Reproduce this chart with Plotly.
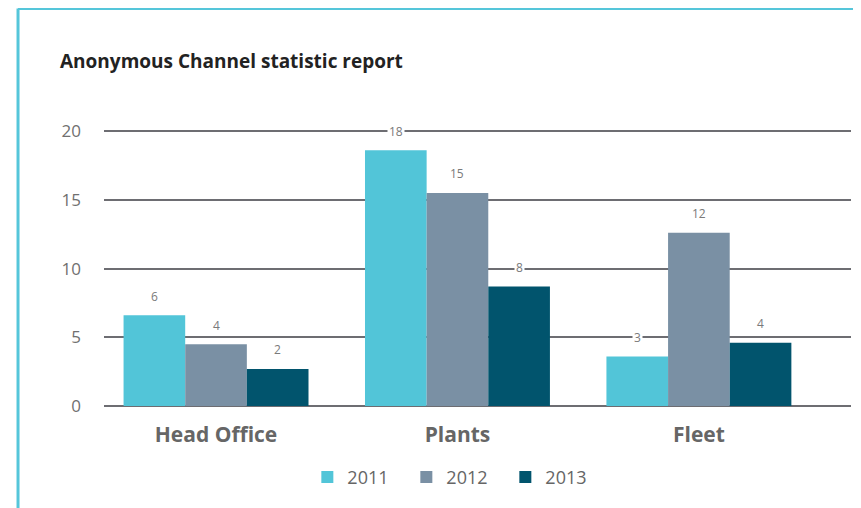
import plotly.graph_objects as go

# chart data
sites = ['Head Office', 'Plants', 'Fleet']
years = ['2011', '2012', '2013']
values_2011 = [6.6, 18.6, 3.6]
values_2012 = [4.5, 15.5, 12.6]
values_2013 = [2.7, 8.7, 4.6]
labels_2011 = ['6', '18', '3']
labels_2012 = ['4', '15', '12']
labels_2013 = ['2', '8', '4']
y_ticks = [0, 5, 10, 15, 20]

colors = ['#52c5d8', '#7a90a4', '#01546d']
series = [values_2011, values_2012, values_2013]
labels = [labels_2011, labels_2012, labels_2013]

FONT = 'Open Sans'
BAR_PX = 61.7  # width of one bar in pixels, used to place the value labels

# page body has an 8px margin, so the figure is sized to fit the window
W, H = 853, 500

fig = go.Figure()
for i, year in enumerate(years):
    fig.add_trace(go.Bar(
        x=sites, y=series[i], name=year,
        marker=dict(color=colors[i], line=dict(width=0)),
        hoverinfo='x+y+name'
    ))

# value labels with a white box so they cut the gridlines like the original
annotations = []
for i in range(len(years)):
    for j, site in enumerate(sites):
        annotations.append(dict(
            x=site, y=series[i][j], xref='x', yref='y',
            text=labels[i][j], showarrow=False,
            xshift=(i - 1) * BAR_PX, yshift=19,
            bgcolor='white', borderpad=1,
            font=dict(family=FONT, size=12, color='#7a7a7a')
        ))

# light blue frame round the card (top and left edges)
border = '#55c6da'
shapes = [
    dict(type='line', xref='paper', yref='paper', x0=-0.1151, x1=1.05,
         y0=1.44, y1=1.44, line=dict(color=border, width=3)),
    dict(type='line', xref='paper', yref='paper', x0=-0.1151, x1=-0.1151,
         y0=1.44, y1=-0.40, line=dict(color=border, width=3)),
]

fig.update_layout(
    width=W, height=H,
    margin=dict(l=96, r=10, t=122, b=102),
    paper_bgcolor='white', plot_bgcolor='white',
    barmode='group', bargap=0.234, bargroupgap=0,
    title=dict(text='<b>Anonymous Channel statistic report</b>',
               x=52 / W, xanchor='left', y=1 - 53 / H, yanchor='middle',
               font=dict(family=FONT, size=19, color='#222222')),
    xaxis=dict(
        type='category', range=[-0.464, 2.63],
        showgrid=False, showline=False, zeroline=False,
        ticks='', ticklabelstandoff=14,
        tickfont=dict(family=FONT, size=21, color='#666666', weight=700)
    ),
    yaxis=dict(
        range=[0, 20.08], tickvals=y_ticks,
        showgrid=True, gridcolor='#6d6d72', gridwidth=2,
        zeroline=True, zerolinecolor='#6d6d72', zerolinewidth=2,
        showline=False, ticks='', ticklabelstandoff=22,
        tickfont=dict(family=FONT, size=17, color='#707070')
    ),
    legend=dict(
        orientation='h', x=0.471, xanchor='center', y=-0.258, yanchor='middle',
        font=dict(family=FONT, size=18, color='#666666'),
        entrywidth=54, entrywidthmode='pixels',
        itemclick=False, itemdoubleclick=False
    ),
    annotations=annotations,
    shapes=shapes,
)

fig.write_html('out.html')
